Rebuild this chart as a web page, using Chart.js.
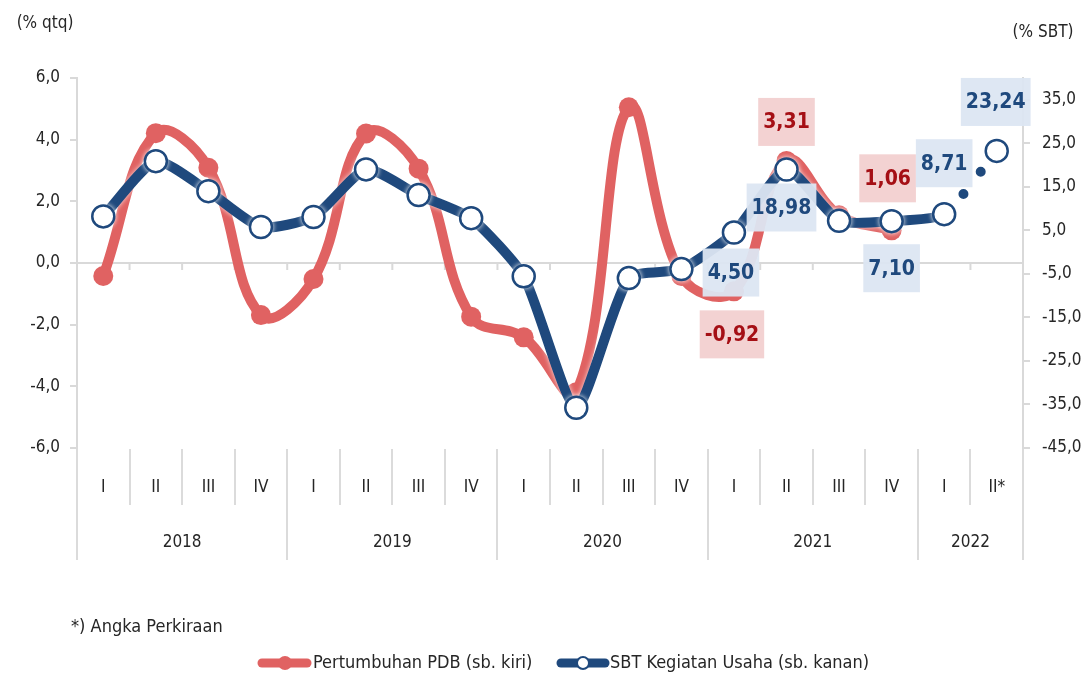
<!DOCTYPE html>
<html>
<head>
<meta charset="utf-8">
<script src="https://cdn.jsdelivr.net/npm/chart.js@4.4.1/dist/chart.umd.min.js"></script>
<style>
  body { margin: 0; background: #fff; }
  #wrap { width: 1087px; height: 682px; position: relative; }
</style>
</head>
<body>
<div id="wrap"><canvas id="sbt-chart"></canvas></div>
<script>
var quarters = ['I', 'II', 'III', 'IV', 'I', 'II', 'III', 'IV', 'I', 'II', 'III', 'IV', 'I', 'II', 'III', 'IV', 'I', 'II*'];
var years = ['2018', '2019', '2020', '2021', '2022'];
var yearSpans = [4, 4, 4, 4, 2];
var pdb = [-0.42, 4.21, 3.09, -1.69, -0.52, 4.20, 3.06, -1.74, -2.41, -4.19, 5.05, -0.42, -0.92, 3.31, 1.55, 1.06, null, null];
var sbt = [8.21, 20.89, 14.00, 5.77, 8.07, 19.0, 13.1, 7.79, -5.56, -35.75, -5.97, -3.90, 4.50, 18.98, 7.2, 7.10, 8.71, 23.24];
var leftTicks = [-6, -4, -2, 0, 2, 4, 6];
var rightTicks = [-45, -35, -25, -15, -5, 5, 15, 25, 35];

const RED = '#e06262';
const BLUE = '#1f497d';
const TXT = '#262626';
const FONT = '"Liberation Sans Narrow", "DejaVu Sans Condensed", sans-serif';

function fmt(v) {
    return v.toFixed(1).replace('.', ',');
}

// value boxes: dataset, index, offset from the point
const boxes = [
    { ds: 1, i: 12, dx: -2, dy: 43 },
    { ds: 1, i: 13, dx: 0, dy: -39 },
    { ds: 1, i: 15, dx: -4, dy: -52 },
    { ds: 0, i: 12, dx: -3, dy: 40 },
    { ds: 0, i: 13, dx: -5, dy: 38 },
    { ds: 0, i: 15, dx: 0, dy: 47 },
    { ds: 0, i: 16, dx: 0, dy: -51 },
    { ds: 0, i: 17, dx: -1, dy: -49 }
];

const decor = {
    id: 'decor',
    beforeDatasetsDraw(chart) {
        const c = chart.ctx, a = chart.chartArea;
        const xs = chart.scales.x, yl = chart.scales.yL;
        const y0 = yl.getPixelForValue(0);
        const step = (a.right - a.left) / quarters.length;
        c.save();
        c.strokeStyle = '#d9d9d9';
        c.lineWidth = 2;
        c.beginPath();
        c.moveTo(a.left, y0);
        c.lineTo(a.right, y0);
        for (let i = 1; i < quarters.length; i++) {
            const x = xs.getPixelForValue(i) - step / 2;
            c.moveTo(x, y0);
            c.lineTo(x, y0 + 7);
        }
        c.stroke();
        c.restore();
    },
    beforeDatasetDraw(chart, args) {
        if (args.index === 0) {
            chart.ctx.save();
            chart.ctx.shadowColor = 'rgba(255,255,255,0.8)';
            chart.ctx.shadowBlur = 5;
        }
    },
    afterDatasetDraw(chart, args) {
        if (args.index === 0) chart.ctx.restore();
    },
    afterDraw(chart) {
        const c = chart.ctx, a = chart.chartArea;
        const xs = chart.scales.x;
        const step = (a.right - a.left) / quarters.length;
        c.save();
        // category separators
        c.strokeStyle = '#d0d0d0';
        c.lineWidth = 1.5;
        c.beginPath();
        let yearEdges = [0];
        yearSpans.reduce((s, n) => { yearEdges.push(s + n); return s + n; }, 0);
        for (let i = 0; i <= quarters.length; i++) {
            const x = Math.round(xs.getPixelForValue(0) - step / 2 + i * step);
            const long = yearEdges.indexOf(i) >= 0;
            c.moveTo(x, a.bottom + 1);
            c.lineTo(x, long ? 560 : 505);
        }
        c.stroke();

        c.fillStyle = TXT;
        c.textAlign = 'center';
        c.textBaseline = 'middle';
        c.font = '17px ' + FONT;
        quarters.forEach((q, i) => c.fillText(q, xs.getPixelForValue(i), 488));
        let start = 0;
        years.forEach((yr, k) => {
            const mid = (xs.getPixelForValue(start) + xs.getPixelForValue(start + yearSpans[k] - 1)) / 2;
            c.fillText(yr, mid, 543);
            start += yearSpans[k];
        });

        // axis titles and note
        c.font = '17px ' + FONT;
        c.fillText('(% qtq)', 45, 24);
        c.fillText('(% SBT)', 1043, 33);
        c.textAlign = 'left';
        c.font = '18px ' + FONT;
        c.fillText('*) Angka Perkiraan', 71, 627);

        // legend
        const ly = 663;
        c.lineCap = 'round';
        c.lineWidth = 9;
        c.strokeStyle = RED;
        c.beginPath(); c.moveTo(262, ly); c.lineTo(307, ly); c.stroke();
        c.fillStyle = RED;
        c.beginPath(); c.arc(285, ly, 7, 0, Math.PI * 2); c.fill();
        c.strokeStyle = BLUE;
        c.beginPath(); c.moveTo(561, ly); c.lineTo(605, ly); c.stroke();
        c.fillStyle = '#fff';
        c.lineWidth = 2;
        c.beginPath(); c.arc(583, ly, 6, 0, Math.PI * 2); c.fill(); c.stroke();
        c.fillStyle = TXT;
        c.font = '18px ' + FONT;
        c.fillText('Pertumbuhan PDB (sb. kiri)', 313, ly);
        c.fillText('SBT Kegiatan Usaha (sb. kanan)', 610, ly);

        // value boxes
        c.font = 'bold 21px ' + FONT;
        c.textAlign = 'center';
        boxes.forEach(b => {
            const pt = chart.getDatasetMeta(b.ds).data[b.i];
            const v = chart.data.datasets[b.ds].data[b.i];
            const s = v.toFixed(2).replace('.', ',');
            const w = c.measureText(s).width + 10;
            const h = 48;
            const x = pt.x + b.dx, y = pt.y + b.dy;
            c.fillStyle = b.ds === 1 ? 'rgba(242,208,208,0.95)' : 'rgba(220,230,242,0.95)';
            c.fillRect(x - w / 2, y - h / 2, w, h);
            c.fillStyle = b.ds === 1 ? '#a50f15' : BLUE;
            c.fillText(s, x, y + 1);
        });
        c.restore();
    }
};

new Chart(document.getElementById('sbt-chart'), {
    type: 'line',
    data: {
        labels: quarters,
        datasets: [{
            label: 'SBT Kegiatan Usaha (sb. kanan)',
            data: sbt,
            yAxisID: 'yR',
            order: 1,
            borderColor: BLUE,
            borderWidth: 10,
            borderCapStyle: 'round',
            tension: 0.2,
            pointRadius: 11,
            pointBorderWidth: 2.5,
            pointBackgroundColor: '#fff',
            pointBorderColor: BLUE,
            segment: {
                borderDash: ctx => ctx.p1DataIndex === 17 ? [0, 28] : undefined
            }
        }, {
            label: 'Pertumbuhan PDB (sb. kiri)',
            data: pdb,
            yAxisID: 'yL',
            order: 2,
            borderColor: RED,
            borderWidth: 10,
            tension: 0.4,
            pointRadius: 10,
            pointBorderWidth: 0,
            pointBackgroundColor: RED,
            pointBorderColor: RED
        }]
    },
    options: {
        responsive: true,
        maintainAspectRatio: false,
        animation: false,
        events: [],
        layout: {
            padding: { top: 78, bottom: 234, left: 0, right: 0 }
        },
        plugins: {
            legend: { display: false },
            tooltip: { enabled: false }
        },
        scales: {
            x: {
                type: 'category',
                display: false,
                offset: true
            },
            yL: {
                position: 'left',
                min: -6,
                max: 6,
                afterBuildTicks: s => { s.ticks = leftTicks.map(v => ({ value: v })); },
                afterFit: s => { s.width = 77; },
                ticks: {
                    color: TXT,
                    font: { family: FONT, size: 17 },
                    padding: 10,
                    callback: v => fmt(v)
                },
                grid: {
                    drawOnChartArea: false,
                    drawTicks: true,
                    tickLength: 7,
                    color: '#d9d9d9',
                    lineWidth: 2
                },
                border: { color: '#d9d9d9', width: 2 }
            },
            yR: {
                position: 'right',
                min: -45,
                max: 40,
                afterBuildTicks: s => { s.ticks = rightTicks.map(v => ({ value: v })); },
                afterFit: s => { s.width = 64; },
                ticks: {
                    color: TXT,
                    font: { family: FONT, size: 17 },
                    padding: 12,
                    callback: v => fmt(v)
                },
                grid: {
                    drawOnChartArea: false,
                    drawTicks: true,
                    tickLength: 7,
                    color: '#d9d9d9',
                    lineWidth: 2
                },
                border: { color: '#d9d9d9', width: 2 }
            }
        }
    },
    plugins: [decor]
});
</script>
</body>
</html>
